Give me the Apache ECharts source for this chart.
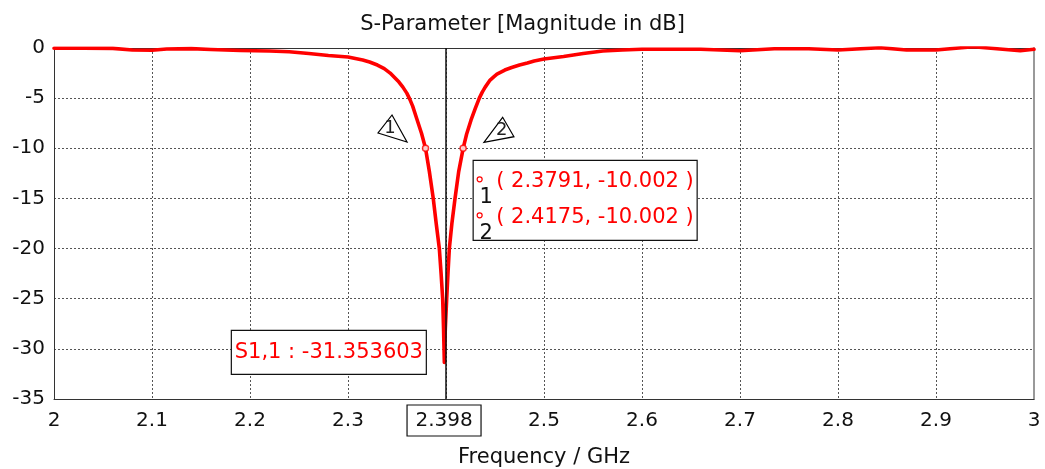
<!DOCTYPE html>
<html>
<head>
<meta charset="utf-8">
<script src="https://cdn.jsdelivr.net/npm/echarts@6/dist/echarts.min.js"></script>
<style>html,body{margin:0;padding:0;background:#fff}#c{width:1045px;height:469px}</style>
</head>
<body>
<div id="c"></div>
<script>
const titleText = 'S-Parameter [Magnitude in dB]';
const xName = 'Frequency / GHz';
const freq = [2.0,2.03,2.06,2.08,2.1,2.115,2.14,2.16,2.19,2.22,2.24,2.26,2.28,2.29,2.30,2.315,2.322,2.33,2.337,2.343,2.348,2.352,2.356,2.360,2.363,2.366,2.370,2.375,2.3791,2.383,2.387,2.390,2.3932,2.395,2.3966,2.3975,2.3983,2.3993,2.4007,2.402,2.4034,2.406,2.4092,2.413,2.4175,2.421,2.4255,2.430,2.434,2.437,2.440,2.445,2.449,2.452,2.460,2.467,2.475,2.483,2.49,2.50,2.52,2.53,2.54,2.56,2.58,2.60,2.63,2.66,2.70,2.735,2.77,2.80,2.843,2.87,2.90,2.938,2.965,2.986,3.0];
const s11 = [-0.03,-0.03,-0.04,-0.2,-0.22,-0.1,-0.06,-0.15,-0.25,-0.3,-0.37,-0.55,-0.75,-0.82,-0.9,-1.2,-1.4,-1.7,-2.05,-2.5,-3.0,-3.4,-3.9,-4.5,-5.1,-5.8,-7.0,-8.5,-10.002,-12.3,-15,-17.5,-20,-22.5,-25,-28,-31.353603,-28,-25,-22.5,-20,-17.5,-15,-12.3,-10.002,-8.6,-7.2,-6.0,-5.0,-4.4,-3.9,-3.2,-2.85,-2.6,-2.2,-1.95,-1.7,-1.5,-1.3,-1.1,-0.85,-0.7,-0.55,-0.3,-0.2,-0.13,-0.12,-0.13,-0.27,-0.07,-0.07,-0.2,0.03,-0.2,-0.2,0.13,-0.1,-0.27,-0.13];
const markerF = [2.3791, 2.4175];
const markerV = [-10.002, -10.002];
const minF = 2.3983, minV = -31.353603;
const cursorF = 2.398;
const xTicks = {min: 2, max: 3, interval: 0.1};
const yTicks = {min: -35, max: 0, interval: 5};

const FONT = 'DejaVu Sans';
const chart = echarts.init(document.getElementById('c'), null, {renderer: 'canvas'});
const lineData = freq.map((f, i) => [f, s11[i]]);
const markerData = markerF.map((f, i) => [f, markerV[i]]);
const gridLine = {show: true, lineStyle: {color: '#555', type: [2, 2], width: 1}};

chart.setOption({
  animation: false,
  textStyle: {fontFamily: FONT},
  title: {text: titleText, left: 'center', top: 9,
    textStyle: {fontFamily: FONT, fontSize: 21, fontWeight: 'normal', color: '#111'}},
  grid: {left: 54, right: 11, top: 48, bottom: 70, containLabel: false, outerBoundsMode: 'none'},
  xAxis: [{
    type: 'value', min: xTicks.min, max: xTicks.max, interval: xTicks.interval,
    name: xName, nameLocation: 'middle', nameGap: 48,
    nameTextStyle: {fontFamily: FONT, fontSize: 21, color: '#111'},
    axisLine: {show: true, onZero: false, lineStyle: {color: '#333', width: 1}},
    axisTick: {show: false},
    axisLabel: {fontFamily: FONT, fontSize: 20, color: '#111', margin: 12,
      formatter: v => (Math.round(v * 10) / 10).toString()},
    splitLine: gridLine
  }, {
    type: 'value', position: 'top', min: xTicks.min, max: xTicks.max,
    axisLine: {show: true, onZero: false, lineStyle: {color: '#333', width: 1}},
    axisTick: {show: false}, axisLabel: {show: false}, splitLine: {show: false}
  }],
  yAxis: [{
    type: 'value', min: yTicks.min, max: yTicks.max, interval: yTicks.interval,
    axisLine: {show: true, onZero: false, lineStyle: {color: '#333', width: 1}},
    axisTick: {show: false},
    axisLabel: {fontFamily: FONT, fontSize: 20, color: '#111', margin: 9},
    splitLine: gridLine
  }, {
    type: 'value', position: 'right', min: yTicks.min, max: yTicks.max,
    axisLine: {show: true, onZero: false, lineStyle: {color: '#999', width: 2}},
    axisTick: {show: false}, axisLabel: {show: false}, splitLine: {show: false}
  }],
  series: [{
    type: 'line', data: lineData, showSymbol: false, smooth: false,
    lineStyle: {color: '#ff0000', width: 3.6, join: 'round', cap: 'round'}, z: 3,
    markLine: {
      silent: true, symbol: 'none', animation: false,
      lineStyle: {color: '#111', type: 'solid', width: 1.5},
      label: {show: false},
      data: [{xAxis: cursorF}], z: 5
    }
  }, {
    type: 'scatter', data: markerData, symbol: 'circle', symbolSize: 6, z: 6,
    itemStyle: {color: '#fff', borderColor: '#ff0000', borderWidth: 1.5}
  }]
});

function px(f, v) { return chart.convertToPixel({gridIndex: 0}, [f, v]); }
const p1 = px(markerF[0], markerV[0]);
const p2 = px(markerF[1], markerV[1]);
const pm = px(minF, minV);
const pc = px(cursorF, yTicks.min);
const red = '#ff0000';
const g = [];
// triangles
g.push({type: 'polygon', z: 50, shape: {points: [[p1[0]-33.5, p1[1]-33.3], [p1[0]-47.5, p1[1]-15.3], [p1[0]-18.5, p1[1]-6.3]]},
  style: {fill: 'none', stroke: '#000', lineWidth: 1.2}});
g.push({type: 'text', z: 51, x: p1[0]-35.5, y: p1[1]-20, style: {text: '1', font: '18px ' + FONT, fill: '#222', align: 'center', verticalAlign: 'middle'}});
g.push({type: 'polygon', z: 50, shape: {points: [[p2[0]+39.5, p2[1]-31], [p2[0]+20.8, p2[1]-6], [p2[0]+50.8, p2[1]-11.6]]},
  style: {fill: 'none', stroke: '#000', lineWidth: 1.2}});
g.push({type: 'text', z: 51, x: p2[0]+38.5, y: p2[1]-17.5, style: {text: '2', font: '18px ' + FONT, fill: '#222', align: 'center', verticalAlign: 'middle'}});
// marker readout box
g.push({type: 'rect', z: 50, shape: {x: p2[0]+10, y: p2[1]+12, width: 224, height: 80},
  style: {fill: '#fff', stroke: '#111', lineWidth: 1.2}});
const rows = [[markerF[0], markerV[0], '1', 31], [markerF[1], markerV[1], '2', 67]];
rows.forEach(r => {
  g.push({type: 'circle', z: 52, shape: {cx: p2[0]+16.5, cy: p2[1]+r[3], r: 2.5}, style: {fill: '#fff', stroke: red, lineWidth: 1.2}});
  g.push({type: 'text', z: 52, x: p2[0]+23, y: p2[1]+r[3]+18, style: {text: r[2], font: '21px ' + FONT, fill: '#111', align: 'center', verticalAlign: 'middle'}});
  g.push({type: 'text', z: 52, x: p2[0]+33, y: p2[1]+r[3]+2, style: {text: '( ' + r[0].toFixed(4) + ', ' + r[1].toFixed(3) + ' )', font: '21px ' + FONT, fill: red, align: 'left', verticalAlign: 'middle'}});
});
// min box
g.push({type: 'rect', z: 50, shape: {x: pm[0]-213, y: pm[1]-32, width: 195, height: 44},
  style: {fill: '#fff', stroke: '#111', lineWidth: 1.2}});
g.push({type: 'text', z: 51, x: pm[0]-115.5, y: pm[1]-10, style: {text: 'S1,1 : ' + minV.toFixed(6), font: '21px ' + FONT, fill: red, align: 'center', verticalAlign: 'middle'}});
// cursor label box
g.push({type: 'rect', z: 50, shape: {x: pc[0]-37, y: pc[1]+6, width: 74, height: 31},
  style: {fill: '#fff', stroke: '#111', lineWidth: 1.2}});
g.push({type: 'text', z: 51, x: pc[0], y: pc[1]+22, style: {text: cursorF.toFixed(3), font: '20px ' + FONT, fill: '#111', align: 'center', verticalAlign: 'middle'}});
chart.setOption({graphic: g});
</script>
</body>
</html>
